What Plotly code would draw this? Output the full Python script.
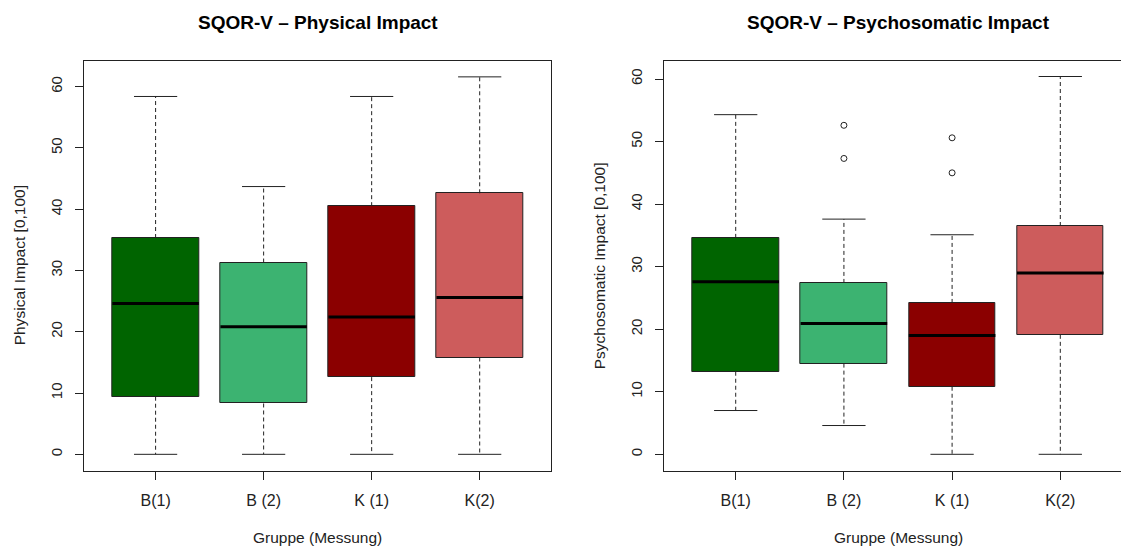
import plotly.graph_objects as go

# Group labels and fill colours
groups = ["B(1)", "B (2)", "K (1)", "K(2)"]
fills = ["#006400", "#3CB371", "#8B0000", "#CD5C5C"]

# Physical Impact: five-number summaries per group
phys_lower = [0.0, 0.0, 0.0, 0.0]
phys_q1 = [9.4, 8.3, 12.6, 15.8]
phys_median = [24.6, 20.8, 22.4, 25.6]
phys_q3 = [35.3, 31.3, 40.5, 42.6]
phys_upper = [58.4, 43.7, 58.4, 61.6]
phys_outliers = [[], [], [], []]

# Psychosomatic Impact: five-number summaries per group
psy_lower = [7.0, 4.6, 0.0, 0.0]
psy_q1 = [13.2, 14.5, 10.8, 19.1]
psy_median = [27.6, 20.9, 19.0, 29.0]
psy_q3 = [34.6, 27.4, 24.2, 36.5]
psy_upper = [54.3, 37.6, 35.1, 60.4]
psy_outliers = [[], [52.6, 47.3], [50.6, 45.0], []]

titles = ["SQOR-V – Physical Impact", "SQOR-V – Psychosomatic Impact"]
ylabels = ["Physical Impact [0,100]", "Psychosomatic Impact [0,100]"]
xlabel = "Gruppe (Messung)"

W, H = 1121, 546
FONT = "Liberation Sans, Arial, sans-serif"
EDGE = "#222222"
TEXT = "#222222"
BOX_W = 0.8
CAP_W = 0.4

fig = go.Figure()


def add_panel(fig, xa, ya, lower, q1, med, q3, upper, outl):
    pos = list(range(1, len(groups) + 1))
    # boxes (interquartile range)
    fig.add_trace(go.Bar(
        x=pos, base=q1, y=[b - a for a, b in zip(q1, q3)], width=BOX_W,
        marker=dict(color=fills, line=dict(color=EDGE, width=1)),
        xaxis=xa, yaxis=ya, showlegend=False, hoverinfo="skip"))
    for i, p in enumerate(pos):
        # dashed whiskers
        for a, b in ((q3[i], upper[i]), (q1[i], lower[i])):
            fig.add_trace(go.Scatter(
                x=[p, p], y=[a, b], mode="lines",
                line=dict(color=EDGE, width=1, dash="4px,3px"),
                xaxis=xa, yaxis=ya, showlegend=False, hoverinfo="skip"))
        # whisker caps
        for v in (upper[i], lower[i]):
            fig.add_trace(go.Scatter(
                x=[p - CAP_W / 2, p + CAP_W / 2], y=[v, v], mode="lines",
                line=dict(color=EDGE, width=1),
                xaxis=xa, yaxis=ya, showlegend=False, hoverinfo="skip"))
        # median
        fig.add_trace(go.Scatter(
            x=[p - BOX_W / 2, p + BOX_W / 2], y=[med[i], med[i]], mode="lines",
            line=dict(color="black", width=3),
            xaxis=xa, yaxis=ya, showlegend=False, hoverinfo="skip"))
        # outliers
        if outl[i]:
            fig.add_trace(go.Scatter(
                x=[p] * len(outl[i]), y=outl[i], mode="markers",
                marker=dict(symbol="circle-open", size=6,
                            color=EDGE, line=dict(width=1, color=EDGE)),
                xaxis=xa, yaxis=ya, showlegend=False, hoverinfo="skip"))


add_panel(fig, "x", "y", phys_lower, phys_q1, phys_median, phys_q3, phys_upper, phys_outliers)
add_panel(fig, "x2", "y2", psy_lower, psy_q1, psy_median, psy_q3, psy_upper, psy_outliers)

# panel geometry in pixels
left1, right1 = 84.3, 551.0
left2 = 664.3
top_px, bot_px = 61.0, 470.5
dom_y = [1 - bot_px / H, 1 - top_px / H]

xtick_font = dict(family=FONT, size=16, color=TEXT)
ytick_font = dict(family=FONT, size=15, color=TEXT)
label_font = dict(family=FONT, size=15.5, color=TEXT)

common_x = dict(
    tickmode="array", tickvals=[1, 2, 3, 4], ticktext=groups,
    showgrid=False, zeroline=False, showline=True, linecolor=EDGE, linewidth=1,
    ticks="outside", ticklen=8, tickcolor=EDGE, tickfont=xtick_font,
    ticklabelstandoff=7)
common_y = dict(
    tickmode="array", tickvals=[0, 10, 20, 30, 40, 50, 60],
    showgrid=False, zeroline=False, showline=True, linecolor=EDGE, linewidth=1,
    ticks="outside", ticklen=8, tickcolor=EDGE, tickfont=ytick_font,
    tickangle=-90, ticklabelstandoff=7)

fig.update_layout(
    width=W, height=H,
    margin=dict(l=0, r=0, t=0, b=0),
    paper_bgcolor="white", plot_bgcolor="white",
    bargap=0,
    xaxis=dict(domain=[left1 / W, right1 / W], range=[0.34, 4.66], mirror=True, anchor="y", **common_x),
    yaxis=dict(domain=dom_y, range=[-2.64, 64.19], mirror=True, anchor="x", **common_y),
    xaxis2=dict(domain=[left2 / W, 1.0], range=[0.34, 4.561], mirror=True, anchor="y2", **common_x),
    yaxis2=dict(domain=dom_y, range=[-2.59, 62.88], mirror=False, anchor="x2", **common_y),
)

# titles and axis labels
centers = [(left1 + right1) / 2, 898.0]
ylab_x = [19.5, 599.5]
for c, t, yl, yx in zip(centers, titles, ylabels, ylab_x):
    fig.add_annotation(text=f"<b>{t}</b>", x=c / W, y=1 - 23 / H, xref="paper", yref="paper",
                       xanchor="center", yanchor="middle", showarrow=False,
                       font=dict(family=FONT, size=19, color="black"))
    fig.add_annotation(text=xlabel, x=c / W, y=1 - 537 / H, xref="paper", yref="paper",
                       xanchor="center", yanchor="middle", showarrow=False,
                       font=label_font)
    fig.add_annotation(text=yl, x=yx / W, y=1 - (top_px + bot_px) / 2 / H, xref="paper", yref="paper",
                       xanchor="center", yanchor="middle", textangle=-90, showarrow=False,
                       font=label_font)

fig.write_html("out.html", config={"displayModeBar": False})
